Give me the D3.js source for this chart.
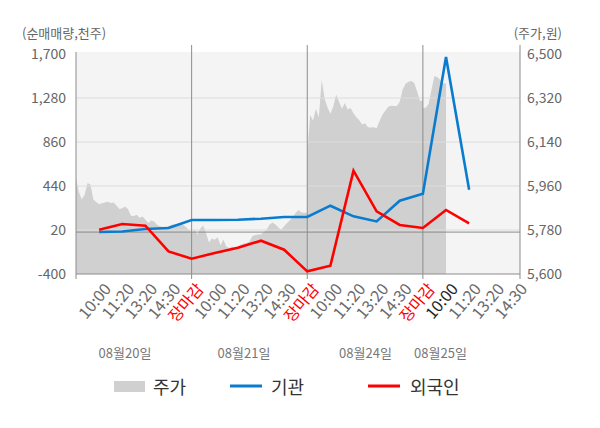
<!DOCTYPE html>
<html><head><meta charset="utf-8">
<script src="https://cdn.jsdelivr.net/npm/d3@7"></script>
<style>body{margin:0;background:#fff}svg{display:block;font-family:"Noto Sans CJK KR","Noto Sans",sans-serif}</style>
</head><body><svg id="c" width="600" height="428"></svg>
<script>
// ---- data ----
const xLabels = ["10:00","11:20","13:20","14:30","장마감","10:00","11:20","13:20","14:30","장마감","10:00","11:20","13:20","14:30","장마감","10:00","11:20","13:20","14:30"];
const dates = ["08월20일","08월21일","08월24일","08월25일"];
const leftTicks = [-400, 20, 440, 860, 1280, 1700];
const rightTicks = [5600, 5780, 5960, 6140, 6320, 6500];
// 순매매량 (천주) at tick positions 1..17
const institution = [1, 6, 30, 39, 115, 115, 118, 128, 144, 144, 252, 150, 102, 300, 366, 1671, 405];
const foreigner = [23, 77, 61, -184, -254, -200, -150, -82, -168, -375, -321, 586, 198, 68, 39, 211, 83];
// 주가 (원), intraday samples per day
const price0820 = [5993,5935,5905,5925,5972,5966,5905,5895,5885,5889,5893,5896,5890,5892,5880,5866,5869,5876,5865,5838,5837,5842,5830,5835,5823,5809,5819,5815,5801,5795,5792,5794,5795,5801,5804,5806,5809,5803,5792,5780,5772];
const price0821 = [5770,5780,5762,5785,5798,5767,5729,5745,5740,5750,5718,5740,5712,5706,5712,5707,5712,5720,5725,5727,5733,5754,5760,5762,5762,5772,5782,5802,5811,5802,5790,5781,5795,5809,5820,5832,5851,5862,5852,5851,5850];
const price0824 = [6090,6250,6228,6276,6240,6395,6318,6282,6256,6285,6334,6305,6276,6300,6273,6279,6258,6241,6229,6212,6217,6200,6199,6200,6196,6226,6251,6268,6284,6288,6287,6287,6305,6354,6378,6386,6390,6381,6348,6308,6310];
const price0825 = [6280,6280,6295,6355,6410,6405,6395,6380,6380];

// ---- layout ----
const svg = d3.select("#c");
const L = 76, R = 520, T = 54, B = 274;
const x = d3.scaleLinear().domain([0, 19.2]).range([L, R]);
const yL = d3.scaleLinear().domain([-400, 1700]).range([B, T]);
const yR = d3.scaleLinear().domain([5600, 6500]).range([B, T]);
const fmt = v => d3.format(",")(v).replace("\u2212", "-");

// price points
const perDay = 5, step = 5 / 40;
const priceDays = [price0820, price0821, price0824, price0825];
const pricePts = [];
priceDays.forEach((arr, d) => arr.forEach((v, k) => pricePts.push({i: d * perDay + k * step, v})));

svg.append("rect").attr("x", L).attr("y", 52).attr("width", R - L).attr("height", B - 52).attr("fill", "#f4f4f4");

svg.append("path").datum(pricePts)
  .attr("fill", "#d0d0d0")
  .attr("d", d3.area().x(d => x(d.i)).y0(yR(5600)).y1(d => yR(d.v)));

// horizontal grid
svg.append("g").selectAll("line").data(leftTicks.slice(1, 5)).join("line")
  .attr("x1", L).attr("x2", R).attr("y1", d => yL(d)).attr("y2", d => yL(d))
  .attr("stroke", "#dcdcdc").attr("stroke-width", 1);
// zero line
svg.append("line").attr("x1", L).attr("x2", R).attr("y1", yL(0)).attr("y2", yL(0)).attr("stroke", "#8c8c8c");
// day separators
svg.append("g").selectAll("line").data([5, 10, 15]).join("line")
  .attr("x1", d => x(d)).attr("x2", d => x(d)).attr("y1", 45).attr("y2", B + 5)
  .attr("stroke", "#8c8c8c");
// axes frame
svg.append("line").attr("x1", L).attr("x2", R).attr("y1", B).attr("y2", B).attr("stroke", "#8c8c8c");
svg.append("line").attr("x1", L).attr("x2", L).attr("y1", 52).attr("y2", B + 5).attr("stroke", "#8c8c8c");
svg.append("line").attr("x1", R).attr("x2", R).attr("y1", 45).attr("y2", B + 5).attr("stroke", "#8c8c8c");

// y tick labels
svg.append("g").selectAll("text").data(leftTicks).join("text")
  .attr("x", 66).attr("y", d => yL(d)).attr("dy", "0.36em").attr("text-anchor", "end")
  .attr("font-size", 14).attr("fill", "#666").text(fmt);
svg.append("g").selectAll("text").data(rightTicks).join("text")
  .attr("x", 527).attr("y", d => yR(d)).attr("dy", "0.36em").attr("text-anchor", "start")
  .attr("font-size", 14).attr("fill", "#666").text(fmt);
svg.append("text").attr("x", 22).attr("y", 38).attr("font-size", 13).attr("fill", "#666").text("(순매매량,천주)");
svg.append("text").attr("x", 562).attr("y", 38).attr("text-anchor", "end").attr("font-size", 13).attr("fill", "#666").text("(주가,원)");

// x tick labels
svg.append("g").selectAll("text").data(xLabels).join("text")
  .attr("transform", (d, i) => `translate(${x(i + 1) + 4},${B + 8}) rotate(-50)`)
  .attr("text-anchor", "end").attr("dy", "0.72em")
  .attr("font-size", 16)
  .attr("fill", (d, i) => d === "장마감" ? "#ff0000" : (i === 15 ? "#222" : "#6a6a6a"))
  .text(d => d);

// date labels
const dateX = [125, 244, 365.5, 440.5];
svg.append("g").selectAll("text").data(dates).join("text")
  .attr("x", (d, i) => dateX[i]).attr("y", 358).attr("text-anchor", "middle")
  .attr("font-size", 13).attr("fill", "#777").text(d => d);

// lines
const line = d3.line().x((d, i) => x(i + 1)).y(d => yL(d));
svg.append("path").datum(institution).attr("fill", "none").attr("stroke", "#0a7ccf").attr("stroke-width", 2.6).attr("d", line);
svg.append("path").datum(foreigner).attr("fill", "none").attr("stroke", "#ff0000").attr("stroke-width", 2.6).attr("d", line);

// legend
const lg = svg.append("g");
lg.append("rect").attr("x", 114).attr("y", 381).attr("width", 31).attr("height", 11).attr("fill", "#d0d0d0");
lg.append("text").attr("x", 153).attr("y", 394).attr("font-size", 18).attr("fill", "#333").text("주가");
lg.append("line").attr("x1", 230).attr("x2", 262).attr("y1", 386).attr("y2", 386).attr("stroke", "#0a7ccf").attr("stroke-width", 3);
lg.append("text").attr("x", 271).attr("y", 394).attr("font-size", 18).attr("fill", "#333").text("기관");
lg.append("line").attr("x1", 368).attr("x2", 400).attr("y1", 386).attr("y2", 386).attr("stroke", "#ff0000").attr("stroke-width", 3);
lg.append("text").attr("x", 410).attr("y", 394).attr("font-size", 18).attr("fill", "#333").text("외국인");
</script></body></html>
